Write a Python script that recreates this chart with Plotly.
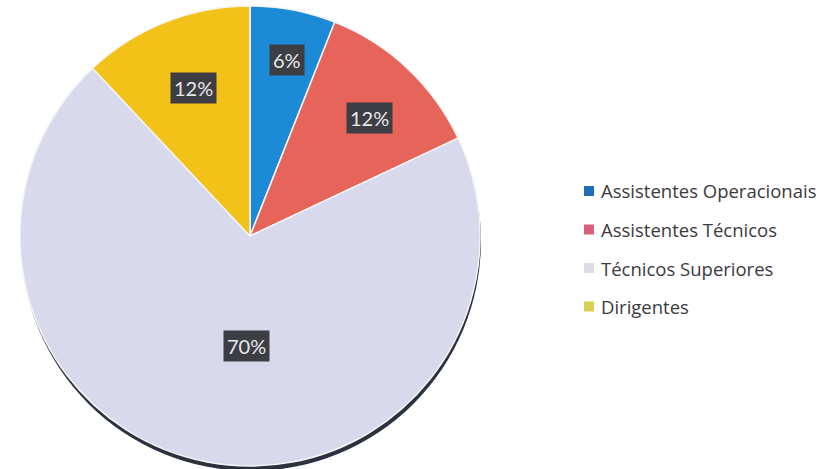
import math
import plotly.graph_objects as go

# Staff distribution by career group
categories = ["Assistentes Operacionais", "Assistentes Técnicos", "Técnicos Superiores", "Dirigentes"]
shares = [6, 12, 70, 12]
colors = ["#1c8ad6", "#e6645a", "#d9d9ed", "#f3c218"]
legend_colors = ["#1f6fb8", "#d9607a", "#dcdce6", "#d8d050"]

W, H = 828, 469
CX, CY, R = 250, 236, 230          # pie centre / radius in pixels (from top-left)
# placement of the value boxes: fraction of the radius and of each slice's sweep
label_radius = [0.78, 0.73, 0.48, 0.69]
label_turn = [0.55, 0.55, 0.465, 0.52]

def px(x):
    return x / W

def py(y):
    return 1 - y / H

fig = go.Figure()
fig.add_trace(go.Pie(
    labels=categories,
    values=shares,
    sort=False,
    direction="clockwise",
    rotation=0,
    marker=dict(colors=colors, line=dict(color="#f4f4f4", width=1.5)),
    textinfo="none",
    hoverinfo="label+percent",
    showlegend=False,
    domain=dict(x=[px(CX - R), px(CX + R)], y=[py(CY + R), py(CY - R)]),
))

# dark rim under the lower edge of the disc
shapes = [dict(
    type="circle", xref="paper", yref="paper", layer="below",
    x0=px(CX - R + 1), x1=px(CX + R + 1), y0=py(CY + R + 5), y1=py(CY - R + 5),
    fillcolor="#2c3140", line=dict(width=0),
)]

annotations = []
total = sum(shares)
cum = 0
for v, f, t in zip(shares, label_radius, label_turn):
    ang = (cum + t * v) / total * 2 * math.pi
    cum += v
    x = CX + f * R * math.sin(ang)
    y = CY - f * R * math.cos(ang)
    annotations.append(dict(
        x=px(x), y=py(y), xref="paper", yref="paper", showarrow=False,
        xanchor="center", yanchor="middle",
        text=f"{round(v / total * 100)}%",
        font=dict(family="Lato", size=20, color="#e8e8e8"),
        bgcolor="#3d3d44", borderpad=3,
    ))

# legend entries
LX, LY0, LSTEP = 584, 191, 38.5
for i, (name, c) in enumerate(zip(categories, legend_colors)):
    yc = LY0 + i * LSTEP
    shapes.append(dict(
        type="rect", xref="paper", yref="paper",
        x0=px(LX), x1=px(LX + 10), y0=py(yc + 5), y1=py(yc - 5),
        fillcolor=c, line=dict(width=0),
    ))
    annotations.append(dict(
        x=px(LX + 15), y=py(yc), xref="paper", yref="paper", showarrow=False,
        xanchor="left", yanchor="middle", text=name,
        font=dict(family="Open Sans", size=18.5, color="#3a3a40"),
    ))

fig.update_layout(
    width=W, height=H,
    margin=dict(l=0, r=0, t=0, b=0),
    paper_bgcolor="white", plot_bgcolor="white",
    shapes=shapes, annotations=annotations,
)

fig.write_html("out.html")
